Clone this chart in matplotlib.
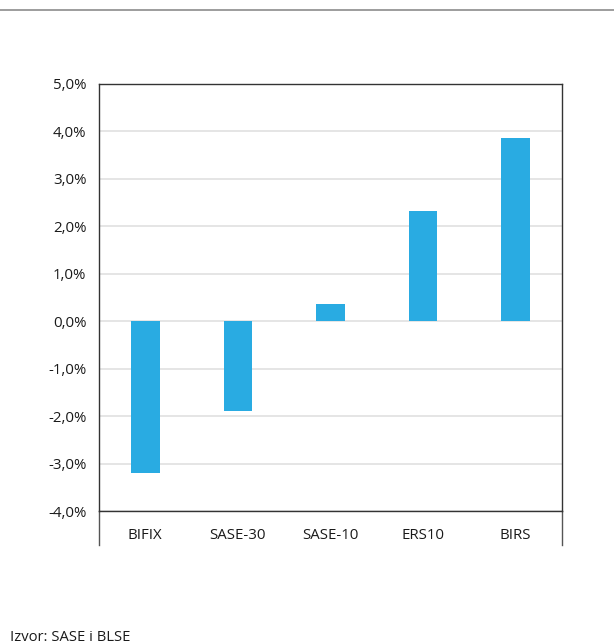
import matplotlib
matplotlib.use("Agg")
import matplotlib.pyplot as plt
from matplotlib.lines import Line2D

# data (% change)
indices = ['BIFIX', 'SASE-30', 'SASE-10', 'ERS10', 'BIRS']
changes = [-3.2, -1.9, 0.36, 2.32, 3.86]
yticks = [-4, -3, -2, -1, 0, 1, 2, 3, 4, 5]
ytick_labels = [f"{v:.1f}%".replace('.', ',') for v in yticks]

plt.rcParams['font.family'] = ['Open Sans', 'DejaVu Sans']

fig = plt.figure(figsize=(6.14, 6.44), dpi=100)
ax = fig.add_axes([0.1612, 0.2065, 0.7541, 0.6631])

ax.bar(range(len(indices)), changes, width=0.31, color='#29abe2', zorder=3)

ax.set_xlim(-0.5, len(indices) - 0.5)
ax.set_ylim(-4, 5)
ax.set_yticks(yticks)
ax.set_yticklabels(ytick_labels, fontsize=10.8, color='#1a1a1a')
ax.set_xticks(range(len(indices)))
ax.set_xticklabels(indices, fontsize=10.8, color='#1a1a1a')
ax.tick_params(axis='both', length=0)
ax.tick_params(axis='y', pad=9)
ax.tick_params(axis='x', pad=12)

ax.grid(axis='y', color='#e3e3e3', linewidth=1.3, zorder=0)
ax.grid(axis='x', visible=False)
for side in ['left', 'right', 'top', 'bottom']:
    ax.spines[side].set_color('#333333')
    ax.spines[side].set_linewidth(1.0)

# extend the side frame lines below the axis to enclose the category labels
for xpos in (0, 1):
    ax.plot([xpos, xpos], [0, -0.08], transform=ax.transAxes,
            color='#555555', linewidth=1.0, clip_on=False)

# header rule and source note
fig.add_artist(Line2D([0, 1], [1 - 10 / 644, 1 - 10 / 644],
                      color='#8c8c8c', linewidth=1.2))
fig.text(10 / 614, 1 - 641 / 644, 'Izvor: SASE i BLSE', fontsize=10.6,
         color='#1a1a1a', ha='left', va='baseline')

fig.savefig('out.png', dpi=100)
